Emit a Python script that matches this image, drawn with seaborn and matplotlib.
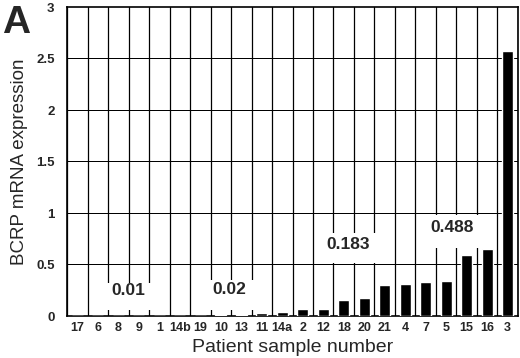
import matplotlib
matplotlib.use('Agg')
import matplotlib.pyplot as plt
import pandas as pd
import seaborn as sns
from matplotlib.patches import Rectangle
from matplotlib.ticker import MultipleLocator, FuncFormatter

# Data
samples = ['17', '6', '8', '9', '1', '14b', '19', '10', '13', '11', '14a',
           '2', '12', '18', '20', '21', '4', '7', '5', '15', '16', '3']
expression = [0.0, 0.005, 0.005, 0.004, 0.002, 0.0, 0.005, 0.015, 0.01, 0.028,
              0.04, 0.065, 0.065, 0.152, 0.178, 0.298, 0.31, 0.33, 0.337,
              0.592, 0.65, 2.57]
y_ticks = [0, 0.5, 1, 1.5, 2, 2.5, 3]

# group median labels
annot_text = ['0.01', '0.02', '0.183', '0.488']
annot_x = [2.5, 7.4, 13.2, 18.3]
annot_y = [0.25, 0.255, 0.70, 0.86]
box_x = [(1.0, 4.0), (6.0, 9.0), (12.0, 15.0), (17.0, 20.0)]
box_y = [(0.06, 0.32), (0.06, 0.35), (0.52, 0.81), (0.66, 0.98)]

df = pd.DataFrame({'sample': samples, 'value': expression})

sns.set_style('white')
plt.rcParams['font.family'] = ['Liberation Sans', 'DejaVu Sans']

fig = plt.figure(figsize=(5.2, 3.58), dpi=100)
ax = fig.add_axes([0.129, 0.117, 0.867, 0.863])

sns.barplot(data=df, x='sample', y='value', order=samples, color='black',
            width=0.55, saturation=1, ax=ax, zorder=3)

ax.set_xlim(-0.5, len(samples) - 0.5)
ax.set_ylim(0, 3)
ax.set_yticks(y_ticks)
ax.yaxis.set_major_formatter(FuncFormatter(lambda v, p: '%g' % v))
ax.xaxis.set_minor_locator(MultipleLocator(1, offset=0.5))

for side in ['top', 'right', 'left', 'bottom']:
    ax.spines[side].set_visible(True)
    ax.spines[side].set_color('black')
    ax.spines[side].set_linewidth(1.2)

ax.tick_params(axis='both', which='both', length=0)
ax.tick_params(axis='y', pad=9, labelsize=9.5)
ax.tick_params(axis='x', pad=4, labelsize=9)
for lbl in ax.get_xticklabels() + ax.get_yticklabels():
    lbl.set_fontweight('bold')

# grid: horizontal at y ticks (thin bands), vertical between bars
for yv in y_ticks[1:-1]:
    ax.axhspan(yv - 0.005, yv + 0.005, color='black', linewidth=0,
               zorder=1.2)
ax.xaxis.grid(False, which='major')
ax.xaxis.grid(True, which='minor', color='black', linewidth=0.9, zorder=0.5)

# white label boxes that blank out the grid
for (x0, x1), (y0, y1) in zip(box_x, box_y):
    ax.add_patch(Rectangle((x0, y0), x1 - x0, y1 - y0, facecolor='white',
                           edgecolor='none', zorder=1.5))
for t, x, y in zip(annot_text, annot_x, annot_y):
    ax.text(x, y, t, ha='center', va='center', fontsize=12.5,
            fontweight='bold', zorder=4)

ax.set_xlim(-0.5, len(samples) - 0.5)
ax.set_xlabel('Patient sample number', fontsize=14, labelpad=4)
ax.set_ylabel('BCRP mRNA expression', fontsize=13.5, labelpad=6)

fig.text(0.003, 0.985, 'A', fontsize=28, fontweight='bold', ha='left', va='top')

fig.savefig('out.png', dpi=100)
